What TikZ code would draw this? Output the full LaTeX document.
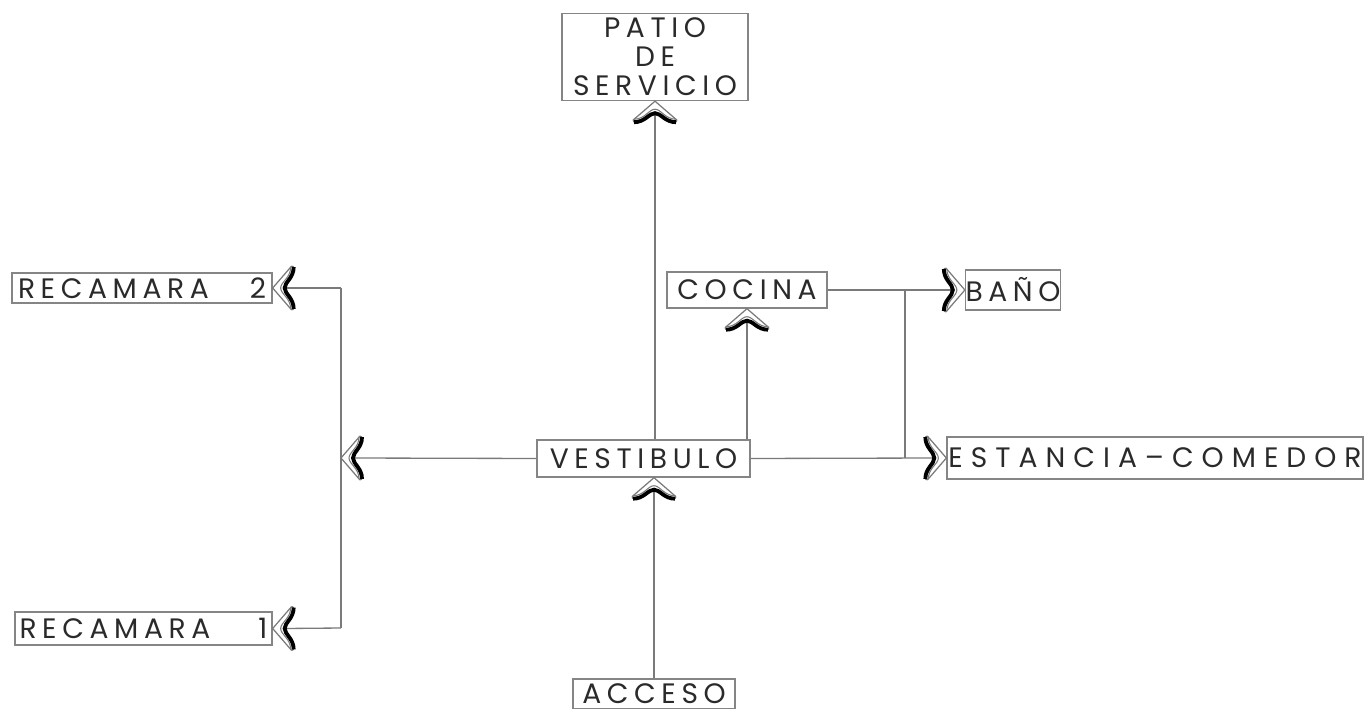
\documentclass[tikz,border=0pt]{standalone}
\usepackage{fontspec}
\setmainfont{Poppins}[LetterSpace=20]
\usetikzlibrary{calc}
\definecolor{linec}{HTML}{7A7A7A}
\definecolor{boxc}{HTML}{858585}
\definecolor{txtc}{HTML}{2A2A2A}
\begin{document}
\begin{tikzpicture}[x=0.02cm,y=-0.02cm,
  room/.style={draw=boxc, line width=0.8pt, inner sep=0pt, text=txtc,
    font=\fontsize{16}{16.5}\selectfont, align=center},
  conn/.style={draw=linec, line width=0.75pt},
  arrowhd/.pic={
    \draw[linec, line width=0.7pt, line join=miter] (-22,19) -- (0,0) -- (22,19);
    \draw[linec, line width=0.6pt] (-22,19) -- (-21,21) (22,19) -- (21,21);
    \draw[linec, line width=0.6pt] (-21,18) .. controls (-10,18) and (-6,8) .. (0,8)
      .. controls (6,8) and (10,18) .. (21,18);
    \draw[black, line width=2.2pt] (-21,21) .. controls (-10,21) and (-6,12) .. (0,12)
      .. controls (6,12) and (10,21) .. (21,21);
  }
]
\useasboundingbox (0,0) rectangle (1368,709);
\clip (0,0) rectangle (1368,709);

% rooms
\node[room, minimum width=3.72cm, minimum height=1.74cm] (patio) at (655,57) {PATIO\\DE\\SERVICIO};
\node[room, minimum width=4.26cm, minimum height=0.74cm] (vest) at (643.5,458.5) {VESTIBULO};
\node[room, minimum width=3.24cm, minimum height=0.6cm] (acceso) at (654,694) {ACCESO};
\node[room, minimum width=3.2cm, minimum height=0.72cm] (cocina) at (747,290) {COCINA};
\node[room, minimum width=1.6cm, minimum height=0.8cm] (bano) at (1013,290) {BAÑO};
\node[room, minimum width=8.32cm, minimum height=0.84cm] (estancia) at (1155,458) {\addfontfeature{LetterSpace=28.5}ESTANCIA–COMEDOR};
\node[room, minimum width=5.2cm, minimum height=0.6cm] (rec2) at (142,288) {\makebox[4.96cm]{RECAMARA\hfill 2}};
\node[room, minimum width=5.14cm, minimum height=0.66cm] (rec1) at (143.5,628.5) {\makebox[4.96cm]{RECAMARA\hfill 1}};

% junctions
\coordinate (jl) at (341,458);
\coordinate (jl2) at (341,288);
\coordinate (jl1) at (341,628);
\coordinate (jr1) at (905,290);
\coordinate (jr2) at (905,458);

% connectors
\draw[conn] (vest.north -| patio.south) -- ($(patio.south)+(0,12)$);
\draw[conn] (acceso.north) -- ($(acceso.north |- vest.south)+(0,12)$);
\draw[conn] (cocina.south |- vest.north) -- ($(cocina.south)+(0,12)$);
\draw[conn] (vest.west) -- ($(jl)+(12,0)$);
\draw[conn] (jl2) -- (jl1);
\draw[conn] (jl2) -- ($(rec2.east)+(12,0)$);
\draw[conn] (jl1) -- ($(rec1.east)+(12,0)$);
\draw[conn] (cocina.east) -- ($(bano.west)+(-12,0)$);
\draw[conn] (jr1) -- (jr2);
\draw[conn] (vest.east) -- ($(estancia.west)+(-12,0)$);

% arrowheads
\pic at (patio.south) {arrowhd};
\pic at (acceso.north |- vest.south) {arrowhd};
\pic at (cocina.south) {arrowhd};
\pic[rotate=90] at (jl) {arrowhd};
\pic[rotate=90] at (rec2.east) {arrowhd};
\pic[rotate=90] at (rec1.east) {arrowhd};
\pic[rotate=-90] at (bano.west) {arrowhd};
\pic[rotate=-90] at (estancia.west) {arrowhd};
\end{tikzpicture}
\end{document}
